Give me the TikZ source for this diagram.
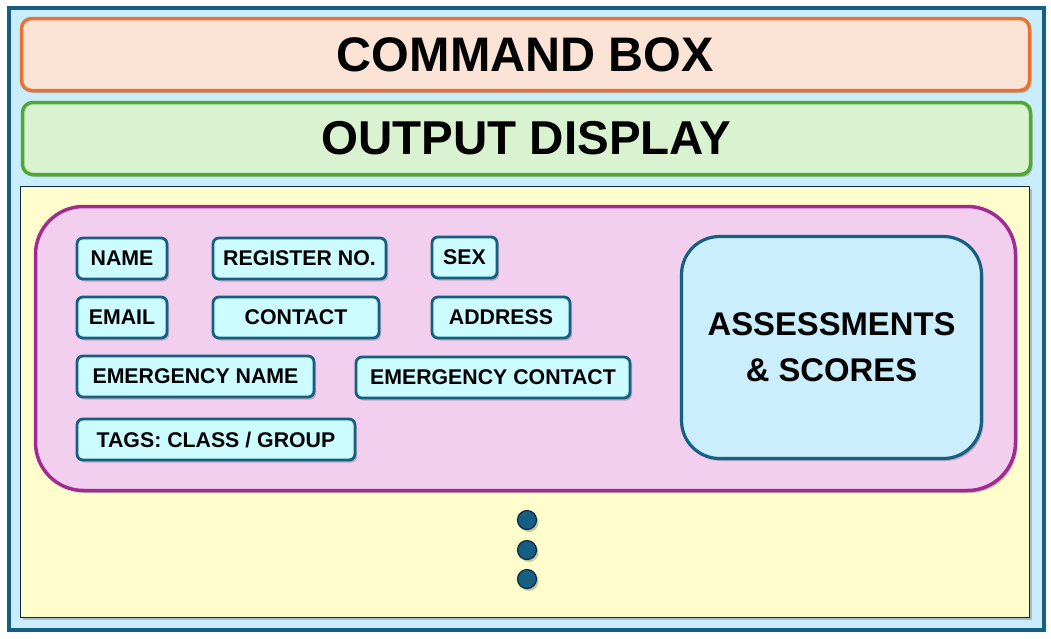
\documentclass[tikz,border=0pt]{standalone}
\usepackage{fontspec}
\setmainfont{Liberation Sans}
\usetikzlibrary{shadows}

\definecolor{frameblue}{HTML}{156082}
\definecolor{framefill}{HTML}{C9EDFA}
\definecolor{cmdline}{HTML}{E97132}
\definecolor{cmdfill}{HTML}{FBE3D6}
\definecolor{outline}{HTML}{4EA72E}
\definecolor{outfill}{HTML}{D9F2D0}
\definecolor{listfill}{HTML}{FFFDCC}
\definecolor{listline}{HTML}{0E2841}
\definecolor{cardline}{HTML}{A02B93}
\definecolor{cardfill}{HTML}{F2CEEF}
\definecolor{fieldfill}{HTML}{CCFCFF}
\definecolor{scorefill}{HTML}{CAEEFB}

\begin{document}
\begin{tikzpicture}[x=1pt, y=-1pt,
    shade/.style={drop shadow={shadow xshift=2pt, shadow yshift=-2.5pt, opacity=0.3, fill=black!70}},
    bar/.style={rounded corners=10pt, line width=3.5pt, minimum width=1008pt, minimum height=72pt, inner sep=0pt, shade},
    field/.style={draw=frameblue, fill=fieldfill, line width=2.8pt, rounded corners=6pt, minimum height=41pt, inner sep=0pt, font=\bfseries\fontsize{21.3}{24}\selectfont, shade}]
    \useasboundingbox (0,0) rectangle (1051,638);
    \node[draw=frameblue, fill=framefill, line width=4pt, minimum width=1035pt, minimum height=622pt, inner sep=0pt] (frame) at (526.5,319) {};
    \node[bar, draw=cmdline, fill=cmdfill, font=\bfseries\fontsize{48.5}{52}\selectfont] (cmd) at (525.5,54.5) {COMMAND BOX};
    \node[bar, draw=outline, fill=outfill, font=\bfseries\fontsize{47.5}{50}\selectfont] (out) at (526.5,138.5) {OUTPUT DISPLAY};
    \node[draw=listline, fill=listfill, line width=1.5pt, minimum width=1009pt, minimum height=431pt, inner sep=0pt, shade] (list) at (525,402) {};
    % one student card
    \node[draw=cardline, fill=cardfill, line width=3.5pt, rounded corners=48pt, minimum width=980pt, minimum height=284pt, inner sep=0pt, shade] (card) at (525.5,348.5) {};
    \node[field, minimum width=90pt] (name) at (122,258.5) {NAME};
    \node[field, minimum width=173pt] (regno) at (299.5,258.5) {REGISTER NO.};
    \node[field, minimum width=65pt] (sex) at (464.5,257.5) {SEX};
    \node[field, minimum width=90pt] (email) at (122,317.5) {EMAIL};
    \node[field, minimum width=166pt] (contact) at (296,317.5) {CONTACT};
    \node[field, minimum width=138pt] (address) at (501,317.5) {ADDRESS};
    \node[field, minimum width=237pt] (emname) at (195.5,376.5) {EMERGENCY NAME};
    \node[field, minimum width=274pt] (emcontact) at (493,377.5) {EMERGENCY CONTACT};
    \node[field, minimum width=278pt] (tags) at (216,439.5) {TAGS: CLASS / GROUP};
    \node[draw=frameblue, fill=scorefill, line width=3.2pt, rounded corners=38pt, minimum width=300pt, minimum height=222pt, inner sep=0pt, align=center, font=\bfseries\fontsize{32.8}{46}\selectfont, shade] (scores) at (831.5,347.5) {ASSESSMENTS\\\& SCORES};
    % more cards follow
    \foreach \y [count=\i] in {520,550,579} {
        \node[circle, draw=listline, fill=frameblue, line width=1.2pt, minimum size=19pt, inner sep=0pt, shade] (dot\i) at (527,\y) {};
    }
\end{tikzpicture}
\end{document}
